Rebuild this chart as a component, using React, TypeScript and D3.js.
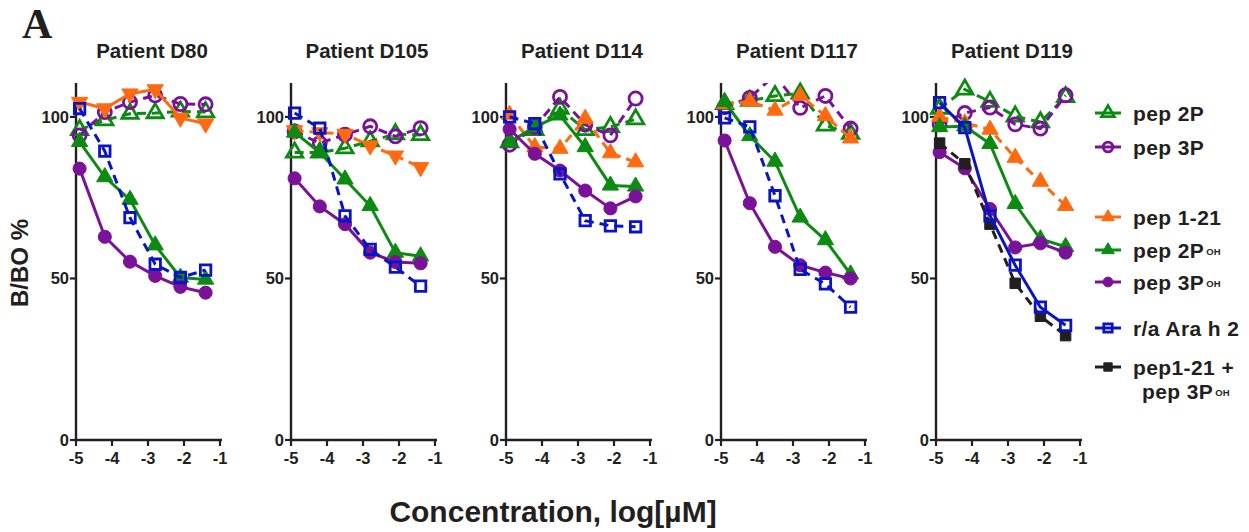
import * as d3 from "d3";

const W = 1249;
const H = 532;

const patients = ["Patient D80", "Patient D105", "Patient D114", "Patient D117", "Patient D119"];
const conc = [-4.9, -4.2, -3.5, -2.8, -2.1, -1.4];
const xTicks = [-5, -4, -3, -2, -1];
const yTicks = [0, 50, 100];

// B/BO % values, one row per patient (D80, D105, D114, D117, D119)
const pep2P = [
  [96, 99, 101, 101.2, 101.7, 101.5],
  [89, 89, 90.3, 92.5, 94.7, 94.4],
  [92.2, 96, 102.6, 96, 96.9, 99.3],
  [104, 105, 106.5, 107.3, 97.4, 94.8],
  [102.6, 108.5, 104.7, 100.2, 98.4, 106.2],
];
const pep3P = [
  [94.3, 101.5, 104.6, 106.7, 104, 103.9],
  [95.5, 91.9, 94.5, 97.1, 94, 96.5],
  [91.4, 96.9, 106.2, 97.6, 94.3, 105.7],
  [103, 105.9, 113, 102.8, 106.5, 96.4],
  [97.7, 101.2, 102.9, 97.7, 96.4, 106.7],
];
const pep121 = [
  [104.6, 102.6, 107.2, 108.5, 99.7, 97.9],
  [95.8, 95.2, 94.7, 91.1, 88, 84.4],
  [100.7, 90.7, 90.2, 99.5, 88.8, 86],
  [104, 104.8, 102, 106.6, 100.3, 93.4],
  [100, 98.1, 96.1, 87.4, 80, 72.5],
];
const pep2POH = [
  [92.3, 81.4, 74.4, 60.3, 50.3, 49.7],
  [95.2, 89, 80.7, 72.5, 58, 56.9],
  [92.2, 96.9, 100.5, 90.7, 78.8, 78.5],
  [104.7, 94.1, 86.2, 68.9, 61.9, 51.3],
  [96.9, 97.1, 91.7, 73.1, 62.2, 59.8],
];
const pep3POH = [
  [84, 62.9, 55.2, 50.8, 47.4, 45.6],
  [81, 72.3, 66.8, 58, 55.1, 54.7],
  [96.2, 88.6, 83.4, 77.2, 71.7, 75.4],
  [92.7, 73.3, 59.8, 54.1, 51.8, 50],
  [89.1, 84.1, 71.5, 59.6, 60.9, 58],
];
const araH2 = [
  [102.6, 89.4, 68.8, 54.4, 50.3, 52.6],
  [101.2, 96.5, 69.4, 59, 53.5, 47.6],
  [100, 97.9, 82.4, 67.9, 66.3, 66],
  [99.7, 96.9, 75.6, 52.8, 48.3, 41.1],
  [104.4, 96.7, 69.4, 54.1, 41.1, 35.5],
];
const pep121plus3POH = [null, null, null, null, [91.9, 85.5, 66.8, 48.5, 38.3, 32.3]];

// per panel variations of style
const pep121Shape = ["down", "down", "up", "up", "up"];
const pep121Dashed = [false, true, true, true, true];
const araH2Dashed = [true, true, true, true, false];

const green = "#0c8a12";
const purple = "#7a1299";
const orange = "#ff6a10";
const blue = "#0a14c4";
const black = "#231f20";

const font = "'Liberation Sans', Arial, Helvetica, sans-serif";

const x0s = patients.map((_, i) => 76 + i * 215);
const panelW = 144;

const y = d3.scaleLinear().domain([0, 110.5]).range([440, 83]);

type Shape = "up" | "down" | "circle" | "square";

function symbolPath(shape: Shape, size: number) {
  const type =
    shape === "circle" ? d3.symbolCircle : shape === "square" ? d3.symbolSquare : d3.symbolTriangle;
  return d3.symbol().type(type).size(size)() as string;
}

function Marker({ shape, open, color, cx, cy, small }: any) {
  const sizes: Record<string, number> = small
    ? { up: 70, down: 70, circle: 75, square: 70 }
    : { up: 115, down: 115, circle: 135, square: 110 };
  const rot = shape === "down" ? " rotate(180)" : "";
  return (
    <path
      d={symbolPath(shape, sizes[shape])}
      transform={`translate(${cx},${cy})${rot}`}
      fill={open ? "none" : color}
      stroke={color}
      strokeWidth={open ? 2.8 : 1}
    />
  );
}

function Panel({ i }: { i: number }) {
  const x0 = x0s[i];
  const x = d3.scaleLinear().domain([-5, -1]).range([x0, x0 + panelW]);
  const line = d3
    .line<number>()
    .x((_, j) => x(conc[j]))
    .y((d) => y(d));

  const series = [
    { data: pep2P[i], color: green, shape: "up", open: true, dashed: true },
    { data: pep3P[i], color: purple, shape: "circle", open: true, dashed: true },
    { data: pep121[i], color: orange, shape: pep121Shape[i], open: false, dashed: pep121Dashed[i] },
    { data: pep2POH[i], color: green, shape: "up", open: false, dashed: false },
    { data: pep3POH[i], color: purple, shape: "circle", open: false, dashed: false },
    { data: pep121plus3POH[i], color: black, shape: "square", open: false, dashed: true },
    { data: araH2[i], color: blue, shape: "square", open: true, dashed: araH2Dashed[i] },
  ].filter((s) => s.data);

  const clipId = `clip-${i}`;

  return (
    <g>
      <clipPath id={clipId}>
        <rect x={x0 - 20} y={y(110.5)} width={panelW + 40} height={y(0) - y(110.5) + 20} />
      </clipPath>
      <text x={x0 + 76} y={58} textAnchor="middle" fontFamily={font} fontWeight="bold" fontSize={20.5} fill={black}>
        {patients[i]}
      </text>
      {/* axes */}
      <line x1={x0} x2={x0} y1={y(110.5)} y2={y(0)} stroke={black} strokeWidth={2.4} />
      <line x1={x0 - 1} x2={x(-1) + 2} y1={y(0)} y2={y(0)} stroke={black} strokeWidth={2.4} />
      {yTicks.map((t) => (
        <g key={t}>
          <line x1={x0 - 6} x2={x0} y1={y(t)} y2={y(t)} stroke={black} strokeWidth={2.2} />
          <text x={x0 - 7} y={y(t) + 6} textAnchor="end" fontFamily={font} fontWeight="bold" fontSize={16.5} fill={black}>
            {t}
          </text>
        </g>
      ))}
      {xTicks.map((t) => (
        <g key={t}>
          <line x1={x(t)} x2={x(t)} y1={y(0)} y2={y(0) + 6} stroke={black} strokeWidth={2.2} />
          <text x={x(t)} y={y(0) + 24} textAnchor="middle" fontFamily={font} fontWeight="bold" fontSize={16.5} fill={black}>
            {`-${Math.abs(t)}`}
          </text>
        </g>
      ))}
      {series.map((s, k) => (
        <g key={k}>
          <path
            d={line(s.data as number[]) as string}
            fill="none"
            stroke={s.color}
            strokeWidth={3}
            strokeDasharray={s.dashed ? "9,6" : undefined}
            clipPath={`url(#${clipId})`}
          />
          {(s.data as number[]).map((v, j) =>
            v <= 110.5 ? (
              <Marker key={j} shape={s.shape} open={s.open} color={s.color} cx={x(conc[j])} cy={y(v)} />
            ) : null
          )}
        </g>
      ))}
    </g>
  );
}

const legendItems = [
  { label: "pep 2P", sub: "", color: green, shape: "up", open: true, ly: 113 },
  { label: "pep 3P", sub: "", color: purple, shape: "circle", open: true, ly: 147 },
  { label: "pep 1-21", sub: "", color: orange, shape: "up", open: false, ly: 217 },
  { label: "pep 2P", sub: "OH", color: green, shape: "up", open: false, ly: 250 },
  { label: "pep 3P", sub: "OH", color: purple, shape: "circle", open: false, ly: 282 },
  { label: "r/a Ara h 2", sub: "", color: blue, shape: "square", open: true, ly: 328 },
  { label: "pep1-21 +", sub: "", color: black, shape: "square", open: false, ly: 367 },
];

function Legend() {
  return (
    <g>
      {legendItems.map((d, k) => (
        <g key={k}>
          <line x1={1095} x2={1121} y1={d.ly} y2={d.ly} stroke={d.color} strokeWidth={3} />
          <Marker shape={d.shape} open={d.open} color={d.color} cx={1108} cy={d.ly} small />
          <text x={1133} y={d.ly + 7.5} fontFamily={font} fontWeight="bold" fontSize={21} letterSpacing={0.4} fill={black}>
            {d.label}
            {d.sub ? (
              <tspan fontSize={9.5} dx={2} dy={-3} letterSpacing={0}>
                {d.sub}
              </tspan>
            ) : null}
          </text>
        </g>
      ))}
      <text x={1142} y={399} fontFamily={font} fontWeight="bold" fontSize={21} letterSpacing={0.4} fill={black}>
        pep 3P
        <tspan fontSize={9.5} dx={2} dy={-3} letterSpacing={0}>
          OH
        </tspan>
      </text>
    </g>
  );
}

export default function App() {
  return (
    <svg width={W} height={H} style={{ display: "block", position: "absolute", left: 0, top: 0, background: "#fff" }}>
      <text x={22} y={38} fontFamily="'Liberation Serif', 'Times New Roman', serif" fontWeight="bold" fontSize={42} fill={black}>
        A
      </text>
      <text
        transform={`translate(28,263) rotate(-90)`}
        textAnchor="middle"
        fontFamily={font}
        fontWeight="bold"
        fontSize={24}
        fill={black}
      >
        B/BO %
      </text>
      {patients.map((_, i) => (
        <Panel key={i} i={i} />
      ))}
      <Legend />
      <text x={553} y={522} textAnchor="middle" fontFamily={font} fontWeight="bold" fontSize={30} fill={black}>
        Concentration, log[µM]
      </text>
    </svg>
  );
}
